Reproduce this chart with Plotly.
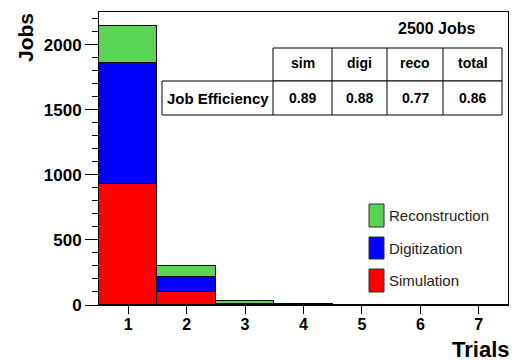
import plotly.graph_objects as go

# ---- data ----
trials = [1, 2, 3, 4, 5, 6, 7]
simulation = [928, 102, 3, 2, 1, 2, 2]
digitization = [931, 111, 5, 1, 1, 0, 0]
reconstruction = [282, 87, 23, 1, 1, 0, 0]
series_names = ["Simulation", "Digitization", "Reconstruction"]
series_colors = ["#FF0000", "#0000FF", "#59D454"]
table_header = ["sim", "digi", "reco", "total"]
table_row_label = "Job Efficiency"
table_values = ["0.89", "0.88", "0.77", "0.86"]
jobs_label = "2500 Jobs"

W, H = 516, 361
L, R, T, B = 99, 508, 12, 305  # plot area in pixels
FONT = "Liberation Sans, Arial, sans-serif"


def px(x):
    return (x - L) / (R - L)


def py(y):
    return (B - y) / (B - T)


def note(text, x, y, size, xanchor="center", color="black", angle=0):
    return dict(text=text, x=px(x), y=py(y), xref="paper", yref="paper", xanchor=xanchor, yanchor="middle",
                showarrow=False, textangle=angle, font=dict(size=size, family=FONT, color=color))


fig = go.Figure()
series_values = [simulation, digitization, reconstruction]
line_colors = [["black"] * 5 + ["#FF0000"] * 2, "black", "black"]
for name, vals, col, lc in zip(series_names, series_values, series_colors, line_colors):
    fig.add_trace(go.Bar(x=trials, y=vals, name=name, marker=dict(color=col, line=dict(color=lc, width=1)),
                         showlegend=False))

shapes = []
annotations = []

# table lines
line = dict(color="black", width=1)
hdr_top, row_top, row_bot = 48, 81, 115
cols = [162, 273, 332, 387, 443, 502]
shapes.append(dict(type="rect", xref="paper", yref="paper", x0=px(cols[1]), x1=px(cols[-1]),
                   y0=py(row_top), y1=py(hdr_top), line=line, fillcolor="white"))
shapes.append(dict(type="rect", xref="paper", yref="paper", x0=px(cols[0]), x1=px(cols[-1]),
                   y0=py(row_bot), y1=py(row_top), line=line, fillcolor="white"))
for c in cols[2:-1]:
    shapes.append(dict(type="line", xref="paper", yref="paper", x0=px(c), x1=px(c),
                       y0=py(row_bot), y1=py(hdr_top), line=line))
shapes.append(dict(type="line", xref="paper", yref="paper", x0=px(cols[1]), x1=px(cols[1]),
                   y0=py(row_bot), y1=py(row_top), line=line))

for i, (h, v) in enumerate(zip(table_header, table_values)):
    cx = (cols[i + 1] + cols[i + 2]) / 2
    annotations.append(note(f"<b>{h}</b>", cx, (hdr_top + row_top) / 2 - 1, 14))
    annotations.append(note(f"<b>{v}</b>", cx, (row_top + row_bot) / 2, 14))
annotations.append(note(f"<b>{table_row_label}</b>", (cols[0] + cols[1]) / 2, (row_top + row_bot) / 2, 15))
annotations.append(note(f"<b>{jobs_label}</b>", 436, 28, 16))

# legend (custom)
leg_rows = [(204, 227), (237, 259), (269, 292)]
for (y0, y1), name, col in zip(leg_rows, series_names[::-1], series_colors[::-1]):
    shapes.append(dict(type="rect", xref="paper", yref="paper", x0=px(369), x1=px(384), y0=py(y1), y1=py(y0),
                       fillcolor=col, line=dict(color="#333", width=1)))
    annotations.append(note(name, 387, (y0 + y1) / 2, 15, xanchor="left", color="#222"))

# axis titles
annotations.append(note("<b>Jobs</b>", 25, 38, 21, angle=-90))
annotations.append(note("<b>Trials</b>", 480, 349, 22))

yfont = dict(size=17, family=FONT, color="black", weight="bold")
xfont = dict(size=16, family=FONT, color="black", weight="bold")
fig.update_layout(
    width=W, height=H, margin=dict(l=L, r=W - R, t=T, b=H - B),
    barmode="stack", bargap=0, plot_bgcolor="white", paper_bgcolor="white",
    shapes=shapes, annotations=annotations,
    xaxis=dict(range=[0.5, 7.5], tickvals=trials, ticks="outside", ticklen=8, tickcolor="black",
               showline=True, linecolor="black", linewidth=1, mirror=True, showgrid=False, zeroline=False,
               tickfont=xfont, ticklabelstandoff=-3),
    yaxis=dict(range=[0, 2252], tickvals=[0, 500, 1000, 1500, 2000], ticks="outside", ticklen=13,
               tickcolor="black", minor=dict(dtick=100, ticks="outside", ticklen=6, tickcolor="black", showgrid=False),
               showline=True, linecolor="black", linewidth=1, mirror=True, showgrid=False, zeroline=False,
               tickfont=yfont),
    font=dict(family=FONT),
)

fig.write_html("out.html")
